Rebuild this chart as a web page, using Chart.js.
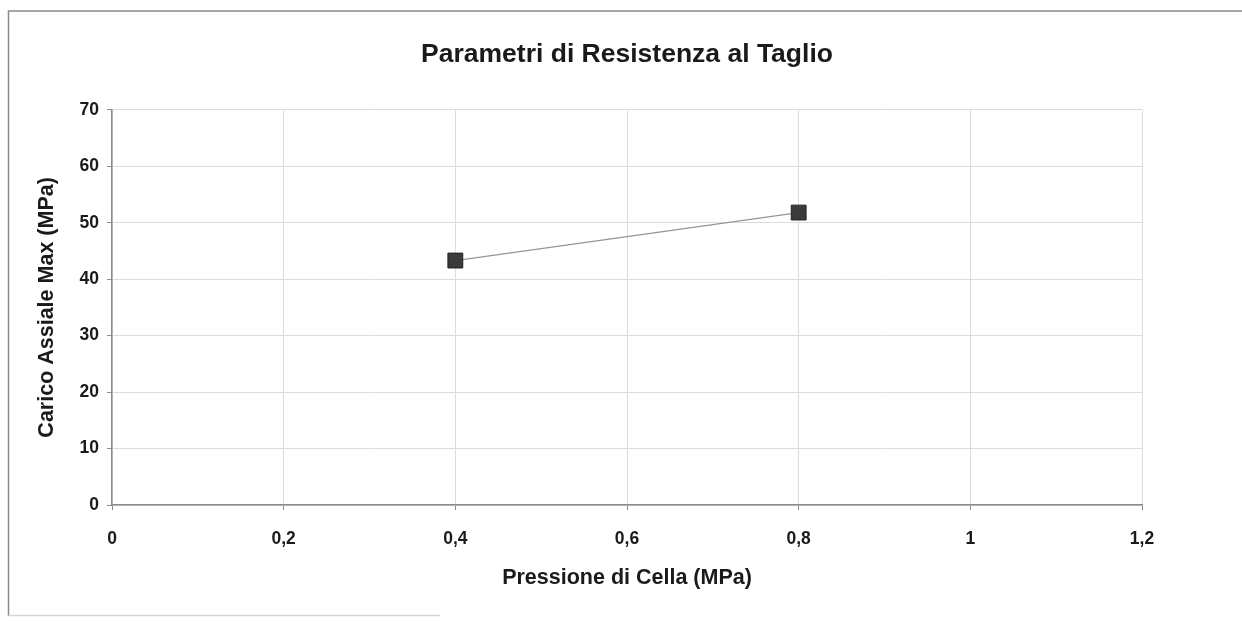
<!DOCTYPE html>
<html>
<head>
<meta charset="utf-8">
<script src="https://cdn.jsdelivr.net/npm/chart.js@4.4.1/dist/chart.umd.min.js"></script>
<style>
  html, body { margin: 0; padding: 0; background: #fff; }
  #wrap { position: absolute; left: 0; top: 0; width: 1242px; height: 623px; }
</style>
</head>
<body>
<div id="wrap"><canvas id="grafico" width="1242" height="623"></canvas></div>
<script>
// dati
const pressioneCella = [0.4, 0.8];
const caricoAssiale = [43.3, 51.8];
const titolo = 'Parametri di Resistenza al Taglio';
const titoloX = 'Pressione di Cella (MPa)';
const titoloY = 'Carico Assiale Max (MPa)';

const FONT = '"Liberation Sans", Arial, sans-serif';

// cornice esterna e sfondo
const cornice = {
  id: 'cornice',
  beforeDraw(chart) {
    const ctx = chart.ctx;
    ctx.save();
    ctx.fillStyle = '#fff';
    ctx.fillRect(0, 0, chart.width, chart.height);
    ctx.strokeStyle = '#8a8a8a';
    ctx.lineWidth = 1.5;
    ctx.beginPath();
    ctx.moveTo(8.5, 616);
    ctx.lineTo(8.5, 11);
    ctx.lineTo(chart.width, 11);
    ctx.stroke();
    ctx.strokeStyle = '#d5d5d5';
    ctx.beginPath();
    ctx.moveTo(8.5, 615.5);
    ctx.lineTo(440, 615.5);
    ctx.stroke();
    ctx.restore();
  }
};

const virgola = v => String(Math.round(v * 10) / 10).replace('.', ',');

new Chart(document.getElementById('grafico').getContext('2d'), {
  type: 'scatter',
  data: {
    datasets: [{
      data: pressioneCella.map((x, i) => ({ x: x, y: caricoAssiale[i] })),
      showLine: true,
      borderColor: '#959595',
      borderWidth: 1.2,
      pointStyle: 'rect',
      pointRadius: 10.5,
      pointHoverRadius: 10.5,
      pointBackgroundColor: '#3a3a3a',
      pointBorderColor: '#222',
      pointBorderWidth: 1
    }]
  },
  options: {
    responsive: false,
    animation: false,
    layout: { padding: { left: 12, right: 0, top: 0, bottom: 0 } },
    plugins: {
      legend: { display: false },
      tooltip: { enabled: false },
      title: {
        display: true,
        text: titolo,
        color: '#1a1a1a',
        font: { family: FONT, size: 26.5, weight: 'bold' },
        padding: { top: 39, bottom: 39 }
      }
    },
    scales: {
      x: {
        type: 'linear',
        min: 0,
        max: 1.2,
        afterFit(scale) { scale.height = 118; },
        ticks: {
          stepSize: 0.2,
          color: '#1a1a1a',
          padding: 19,
          font: { family: FONT, size: 17.5, weight: 'bold' },
          callback: v => virgola(v)
        },
        grid: { color: '#dcdcdc', lineWidth: 1, tickLength: 5, tickColor: '#8a8a8a' },
        border: { color: '#8a8a8a', width: 1.5 },
        title: {
          display: true,
          text: titoloX,
          color: '#1a1a1a',
          font: { family: FONT, size: 21.5, weight: 'bold' },
          padding: { top: 0, bottom: 32 }
        }
      },
      y: {
        min: 0,
        max: 70,
        afterFit(scale) { scale.width = 100; },
        ticks: {
          stepSize: 10,
          color: '#1a1a1a',
          padding: 8,
          font: { family: FONT, size: 17.5, weight: 'bold' },
          callback: v => virgola(v)
        },
        grid: { color: '#dcdcdc', lineWidth: 1, tickLength: 5, tickColor: '#8a8a8a' },
        border: { color: '#8a8a8a', width: 1.5 },
        title: {
          display: true,
          text: titoloY,
          color: '#1a1a1a',
          font: { family: FONT, size: 21.5, weight: 'bold' },
          padding: { top: 22, bottom: 0 }
        }
      },
      // spazio vuoto a destra dell'area del grafico
      destra: {
        position: 'right',
        afterFit(scale) { scale.width = 100; },
        ticks: { display: false },
        grid: { display: false },
        border: { display: false }
      }
    }
  },
  plugins: [cornice]
});
</script>
</body>
</html>
